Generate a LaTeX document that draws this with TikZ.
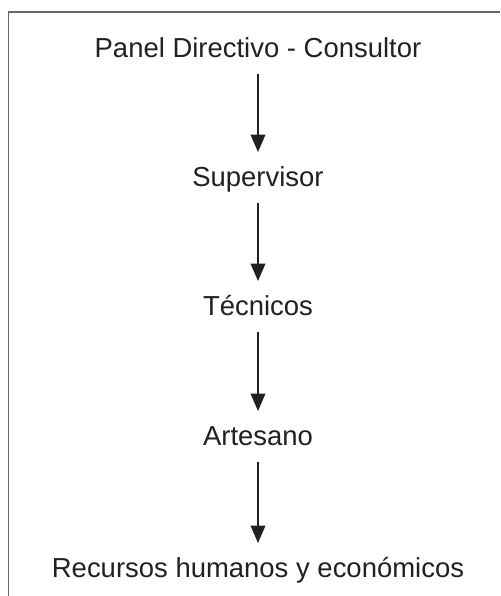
\documentclass[tikz,border=0pt]{standalone}
\usepackage{fontspec}
\setmainfont{Liberation Sans}
\usetikzlibrary{arrows.meta}
\tikzset{
	nivel/.style={anchor=base, inner sep=0pt, text height=14.8pt, text depth=4.3pt,
		font=\fontsize{20.6}{24}\selectfont, text=black!87},
	flecha/.style={-{Triangle[width=11pt,length=13pt]}, line width=1pt, draw=black!87,
		shorten <=8pt, shorten >=10.5pt}
}
\begin{document}
\begin{tikzpicture}[x=0.75pt,y=-0.75pt]
			\useasboundingbox (0,0) rectangle (500,596);
			\draw[black!60, line width=1.1pt] (8.5,596) -- (8.5,12) -- (500,12);
			\node[nivel] (panel) at (258,57) {Panel Directivo - Consultor};
			\node[nivel] (sup) at (258,186) {Supervisor};
			\node[nivel] (tec) at (258,315) {Técnicos};
			\node[nivel] (art) at (258,445) {Artesano};
			\node[nivel] (rec) at (258,577) {Recursos humanos y económicos};
			\draw[flecha] (panel.south) -- (sup.north);
			\draw[flecha] (sup.south) -- (tec.north);
			\draw[flecha] (tec.south) -- (art.north);
			\draw[flecha] (art.south) -- (rec.north);
		\end{tikzpicture}
\end{document}
